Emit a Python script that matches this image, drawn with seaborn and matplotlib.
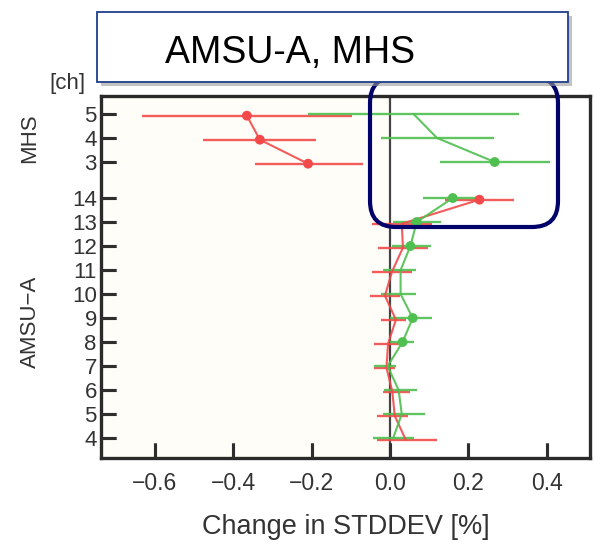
import numpy as np
import pandas as pd
import matplotlib
matplotlib.use("Agg")
import matplotlib.pyplot as plt
from matplotlib.patches import Rectangle, FancyBboxPatch
from matplotlib.transforms import IdentityTransform
import seaborn as sns

# ---------------- data ----------------
amsu_channels = [4, 5, 6, 7, 8, 9, 10, 11, 12, 13, 14]
mhs_channels = [3, 4, 5]

red_amsu = [0.040, 0.012, 0.006, -0.009, -0.005, 0.015, -0.013, 0.005, 0.033, 0.030, 0.228]
red_amsu_lo = [-0.033, -0.033, -0.018, -0.040, -0.040, -0.022, -0.050, -0.045, -0.030, -0.045, 0.141]
red_amsu_hi = [0.120, 0.045, 0.050, 0.012, 0.022, 0.040, 0.025, 0.055, 0.097, 0.107, 0.315]
red_amsu_sig = [0, 0, 0, 0, 0, 0, 0, 0, 0, 0, 1]
red_mhs = [-0.209, -0.332, -0.365]
red_mhs_lo = [-0.345, -0.477, -0.632]
red_mhs_hi = [-0.069, -0.190, -0.097]
red_mhs_sig = [1, 1, 1]

green_amsu = [0.008, 0.030, 0.022, -0.006, 0.032, 0.058, 0.027, 0.027, 0.052, 0.068, 0.160]
green_amsu_lo = [-0.043, -0.018, -0.015, -0.040, 0.000, 0.000, -0.024, -0.018, 0.005, 0.008, 0.083]
green_amsu_hi = [0.060, 0.090, 0.068, 0.015, 0.062, 0.107, 0.067, 0.067, 0.105, 0.130, 0.235]
green_amsu_sig = [0, 0, 0, 0, 1, 1, 0, 0, 1, 1, 1]
green_mhs = [0.267, 0.120, 0.060]
green_mhs_lo = [0.128, -0.023, -0.210]
green_mhs_hi = [0.408, 0.265, 0.330]
green_mhs_sig = [1, 0, 0]

xticks = [-0.6, -0.4, -0.2, 0.0, 0.2, 0.4]
ytick_labels = [str(c) for c in amsu_channels] + [str(c) for c in mhs_channels]

RED = "#f24a4a"
GREEN = "#4fbf4f"
TICK_COLOR = "#2e2e2e"

# ---------------- build frames ----------------
amsu_pos = [c - 4 for c in amsu_channels]
mhs_pos = [11.5 + (c - 3) for c in mhs_channels]
ytick_pos = amsu_pos + mhs_pos

def frame(series, vals, lo, hi, sig, pos, seg):
    return pd.DataFrame({"series": series, "value": vals, "lo": lo, "hi": hi,
                         "sig": sig, "pos": pos, "segment": seg})

df = pd.concat([
    frame("red", red_amsu, red_amsu_lo, red_amsu_hi, red_amsu_sig, amsu_pos, "red_amsu"),
    frame("red", red_mhs, red_mhs_lo, red_mhs_hi, red_mhs_sig, mhs_pos, "red_mhs"),
    frame("green", green_amsu, green_amsu_lo, green_amsu_hi, green_amsu_sig, amsu_pos, "green_amsu"),
    frame("green", green_mhs, green_mhs_lo, green_mhs_hi, green_mhs_sig, mhs_pos, "green_mhs"),
], ignore_index=True)
# tiny vertical offset so the two series' bars don't coincide exactly
df["ypos"] = df["pos"] + np.where(df["series"] == "red", -0.07, 0.0)

# ---------------- style ----------------
sns.set_style("ticks")
plt.rcParams["font.family"] = ["Liberation Sans", "DejaVu Sans"]
plt.rcParams["axes.unicode_minus"] = True
plt.rcParams.update({
    "xtick.bottom": True, "ytick.left": True, "xtick.top": False, "ytick.right": False,
    "xtick.direction": "in", "ytick.direction": "in",
    "xtick.major.size": 11, "ytick.major.size": 11,
    "xtick.major.width": 2.2, "ytick.major.width": 2.2,
    "xtick.color": TICK_COLOR, "ytick.color": TICK_COLOR,
    "xtick.major.pad": 10, "ytick.major.pad": 3,
    "xtick.labelsize": 16.5, "ytick.labelsize": 16,
    "axes.axisbelow": False,
})

fig = plt.figure(figsize=(5.95, 5.46), dpi=100)
ax = fig.add_axes([101 / 595, 88 / 546, 489 / 595, 362 / 546])

xmin, xmax = -0.737, 0.51
ymin, ymax = -0.83, 14.25

ax.axvspan(xmin, 0, color="#fffdf7", zorder=0, lw=0)
ax.axvline(0, color="#444444", lw=1.6, zorder=1)

palette = {"red": RED, "green": GREEN}
for s in ["red", "green"]:
    sub = df[df["series"] == s]
    ax.hlines(sub["ypos"], sub["lo"], sub["hi"], color=palette[s], lw=1.7, alpha=0.9, zorder=2)

sns.lineplot(data=df, x="value", y="ypos", hue="series", units="segment",
             estimator=None, sort=False, orient="y", palette=palette,
             lw=1.5, alpha=0.9, legend=False, ax=ax, zorder=3)
sns.scatterplot(data=df[df["sig"] == 1], x="value", y="ypos", hue="series",
                palette=palette, s=50, edgecolor="none", legend=False, ax=ax, zorder=4)

ax.set_xlim(xmin, xmax)
ax.set_ylim(ymin, ymax)
ax.set_xticks(xticks)
ax.set_xticklabels([f"{t:.1f}".replace("-", "\u2212") for t in xticks])
ax.set_yticks(ytick_pos)
ax.set_yticklabels(ytick_labels)
ax.set_axisbelow(False)
ax.set_xlabel("Change in STDDEV [%]", fontsize=19.5, color="#333333", labelpad=14)
ax.set_ylabel("")
for sp in ax.spines.values():
    sp.set_linewidth(2.4)
    sp.set_color("#2a2a2a")
    sp.set_visible(True)

ax.tick_params(axis="both", which="major", direction="in", length=11, width=2.2,
               color=TICK_COLOR, labelcolor="#333333",
               left=True, bottom=True, right=False, top=False)

# inward tick segments at the tick positions (axis-relative lengths)
ax.vlines(xticks, 0, 0.042, transform=ax.get_xaxis_transform(), colors=TICK_COLOR,
          lw=2.2, clip_on=False, zorder=7)
ax.hlines(ytick_pos, 0, 0.031, transform=ax.get_yaxis_transform(), colors=TICK_COLOR,
          lw=2.2, clip_on=False, zorder=7)

# side labels
fig.text(30 / 595, 1 - 138 / 546, "MHS", rotation=90, ha="center", va="center",
         fontsize=16, color="#333333")
fig.text(30 / 595, 1 - 322 / 546, "AMSU\u2212A", rotation=90, ha="center", va="center",
         fontsize=16, color="#333333")
fig.text(67 / 595, 1 - 84 / 546, "[ch]", ha="center", va="center", fontsize=16,
         color="#333333")

# highlight rounded box (display pixel coords, origin bottom-left)
H = 546
hl = FancyBboxPatch((370, H - 227), 188, 150, boxstyle="round,pad=0,rounding_size=26",
                    transform=IdentityTransform(), facecolor="none", edgecolor="#02026b",
                    lw=3.0, zorder=10)
fig.patches.append(hl)

# title box with shadow
shadow = Rectangle((101, H - 86), 471, 70, transform=IdentityTransform(),
                   facecolor="#9a9a9a", edgecolor="none", alpha=0.6, zorder=11)
fig.patches.append(shadow)
tb = Rectangle((97, H - 82), 471, 70, transform=IdentityTransform(),
               facecolor="white", edgecolor="#1f3f8a", lw=1.3, zorder=12)
fig.patches.append(tb)
fig.text(290 / 595, 1 - 63 / 546, "AMSU-A, MHS", ha="center", va="baseline",
         fontsize=27, color="black", zorder=13)

fig.savefig("out.png", dpi=100)
